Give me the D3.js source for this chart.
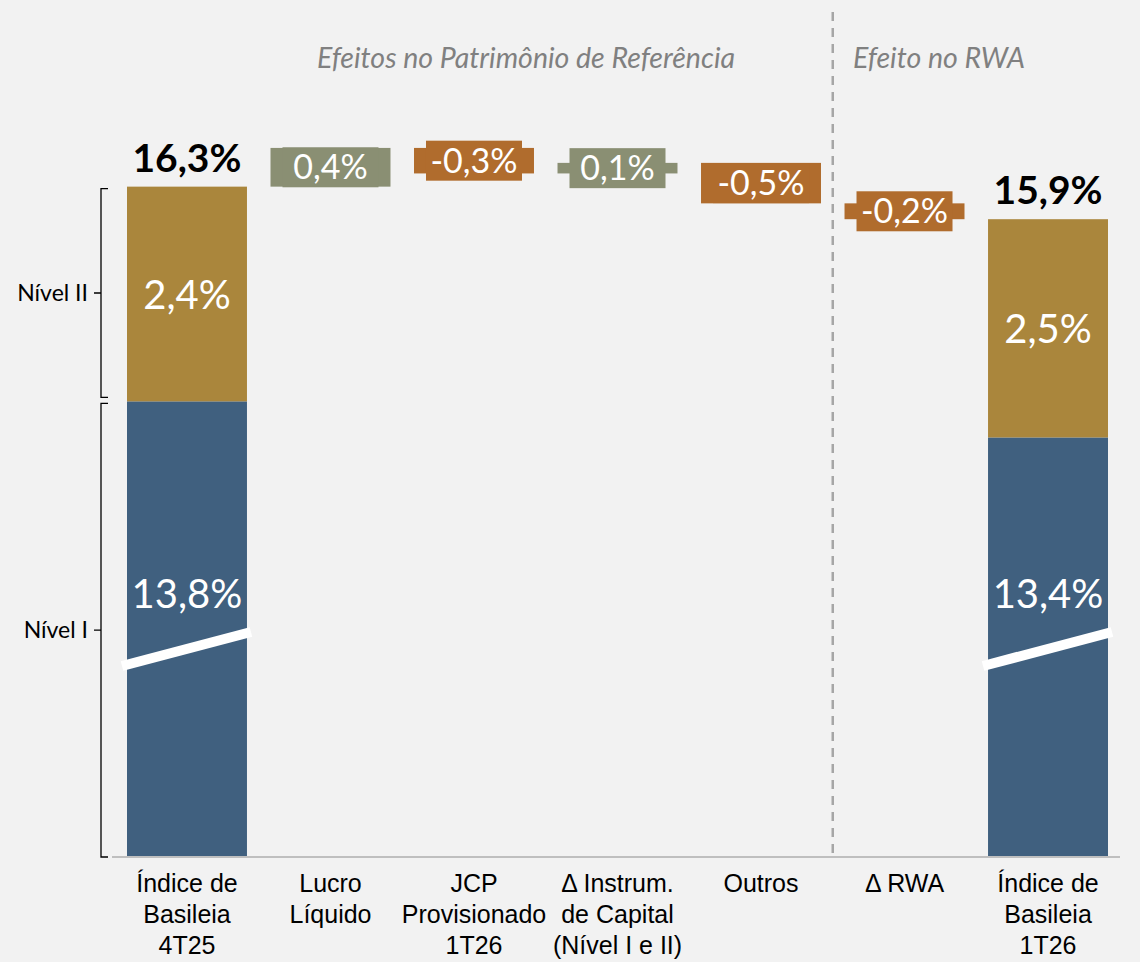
<!DOCTYPE html>
<html>
<head>
<meta charset="utf-8">
<script src="https://cdn.jsdelivr.net/npm/d3@7"></script>
<style>
  html, body { margin: 0; padding: 0; background: #f2f2f2; }
  svg { display: block; font-family: Lato, "Open Sans", sans-serif; }
</style>
</head>
<body>
<svg id="chart"></svg>
<script>
// category labels (one entry per bar, lines of each label)
const categories = [
  ['Índice de', 'Basileia', '4T25'],
  ['Lucro', 'Líquido'],
  ['JCP', 'Provisionado', '1T26'],
  ['Δ Instrum.', 'de Capital', '(Nível I e II)'],
  ['Outros'],
  ['Δ RWA'],
  ['Índice de', 'Basileia', '1T26']
];
// start / end stacked bars
const tier1 = [13.83, 13.42];
const tier2 = [2.44, 2.48];
// waterfall steps between them
const deltas = [0.44, -0.29, 0.12, -0.46, -0.18];
const groupTitles = ['Efeitos no Patrimônio de Referência', 'Efeito no RWA'];
const levelNames = ['Nível II', 'Nível I'];

const W = 1140, H = 962;
const baseY = 857;
const colors = { t1: '#40607f', t2: '#aa863c', up: '#8a8f73', down: '#b06c2d' };
const fmt = v => v.toFixed(1).replace('.', ',') + '%';

const svg = d3.select('#chart').attr('width', W).attr('height', H);
svg.append('rect').attr('width', W).attr('height', H).attr('fill', '#f2f2f2');

const x = d3.scaleBand()
  .domain(d3.range(categories.length))
  .range([127, 1108])
  .paddingInner(0.164)
  .paddingOuter(0);
const bw = x.bandwidth();

// broken axis: bottom part compressed
const y = d3.scaleLinear()
  .domain([0, 12, 17])
  .range([baseY, 562.4, 122.4]);

// separator
const sepX = (x(4) + bw + x(5)) / 2;
svg.append('line')
  .attr('x1', sepX).attr('x2', sepX)
  .attr('y1', 12).attr('y2', baseY)
  .attr('stroke', '#a6a6a6')
  .attr('stroke-width', 2.5)
  .attr('stroke-dasharray', '9,7');

// group titles
svg.selectAll('.gtitle')
  .data(groupTitles)
  .enter()
  .append('text')
  .attr('x', (d, i) => i === 0 ? 526 : 939)
  .attr('y', 68)
  .attr('text-anchor', 'middle')
  .style('font-style', 'italic')
  .style('font-size', '28.5px')
  .attr('fill', '#808080')
  .text(d => d);

// stacked end bars
const ends = [0, categories.length - 1].map((c, i) => ({
  c, t1: tier1[i], t2: tier2[i], total: tier1[i] + tier2[i]
}));

ends.forEach(d => {
  const x0 = x(d.c);
  svg.append('rect')
    .attr('x', x0).attr('width', bw)
    .attr('y', y(d.t1)).attr('height', baseY - y(d.t1))
    .attr('fill', colors.t1);
  svg.append('rect')
    .attr('x', x0).attr('width', bw)
    .attr('y', y(d.total)).attr('height', y(d.t1) - y(d.total))
    .attr('fill', colors.t2);

  // axis break mark
  const yb = 649;
  svg.append('line')
    .attr('x1', x0 - 5).attr('y1', yb + 17)
    .attr('x2', x0 + bw + 4).attr('y2', yb - 17)
    .attr('stroke', '#fff')
    .attr('stroke-width', 10);

  svg.append('text')
    .attr('x', x0 + bw / 2)
    .attr('y', (y(d.t1) + y(d.total)) / 2 + 15)
    .attr('text-anchor', 'middle')
    .attr('fill', '#fff')
    .style('font-size', '40px')
    .text(fmt(d.t2));
  svg.append('text')
    .attr('x', x0 + bw / 2)
    .attr('y', yb - 41)
    .attr('text-anchor', 'middle')
    .attr('fill', '#fff')
    .style('font-size', '40px')
    .text(fmt(d.t1));
  svg.append('text')
    .attr('x', x0 + bw / 2)
    .attr('y', y(d.total) - 15)
    .attr('text-anchor', 'middle')
    .attr('fill', '#000')
    .style('font-size', '39px')
    .style('font-weight', 'bold')
    .text(fmt(d.total));
});

// waterfall steps
let run = ends[0].total;
const steps = deltas.map((v, i) => {
  const s = { c: i + 1, v, from: run, to: run + v };
  run += v;
  return s;
});

const g = svg.selectAll('.step')
  .data(steps)
  .enter()
  .append('g')
  .attr('class', 'step');

g.append('rect')
  .attr('x', d => x(d.c))
  .attr('width', bw)
  .attr('y', d => y(Math.max(d.from, d.to)))
  .attr('height', d => Math.abs(y(d.from) - y(d.to)))
  .attr('fill', d => d.v >= 0 ? colors.up : colors.down);

const boxW = 96, boxH = 40;
g.append('rect')
  .attr('x', d => x(d.c) + (bw - boxW) / 2)
  .attr('width', boxW)
  .attr('y', d => (y(d.from) + y(d.to)) / 2 - boxH / 2)
  .attr('height', boxH)
  .attr('fill', d => d.v >= 0 ? colors.up : colors.down);

g.append('text')
  .attr('x', d => x(d.c) + bw / 2)
  .attr('y', d => (y(d.from) + y(d.to)) / 2 + 12)
  .attr('text-anchor', 'middle')
  .attr('fill', '#fff')
  .style('font-size', '34px')
  .text(d => fmt(d.v));

// x axis
const xAxis = svg.append('g')
  .attr('transform', `translate(0,${baseY})`)
  .call(d3.axisBottom(x).tickSize(0).tickSizeOuter(0).tickFormat(''));
xAxis.select('.domain')
  .attr('d', 'M112,0H1120')
  .attr('stroke', '#bfbfbf')
  .attr('stroke-width', 2);

xAxis.selectAll('.tick text').remove();
xAxis.selectAll('.tick')
  .append('text')
  .attr('text-anchor', 'middle')
  .attr('fill', '#000')
  .style('font-size', '25px')
  .selectAll('tspan')
  .data(i => categories[i])
  .enter()
  .append('tspan')
  .attr('x', 0)
  .attr('y', (d, i) => 35 + i * 31)
  .text(d => d);

// level brackets on the left
const brackets = [
  { name: levelNames[0], top: y(ends[0].total) + 2, bottom: y(ends[0].t1) - 4 },
  { name: levelNames[1], top: y(ends[0].t1) + 2, bottom: baseY }
];
const bx = 101;
brackets.forEach(b => {
  const mid = (b.top + b.bottom) / 2;
  svg.append('path')
    .attr('d', `M${bx + 7},${b.top}H${bx}V${b.bottom}H${bx + 7}M${bx},${mid}H${bx - 7}`)
    .attr('fill', 'none')
    .attr('stroke', '#000')
    .attr('stroke-width', 1.3);
  svg.append('text')
    .attr('x', 88)
    .attr('y', mid + 8)
    .attr('text-anchor', 'end')
    .style('font-size', '23px')
    .attr('fill', '#000')
    .text(b.name);
});
</script>
</body>
</html>
